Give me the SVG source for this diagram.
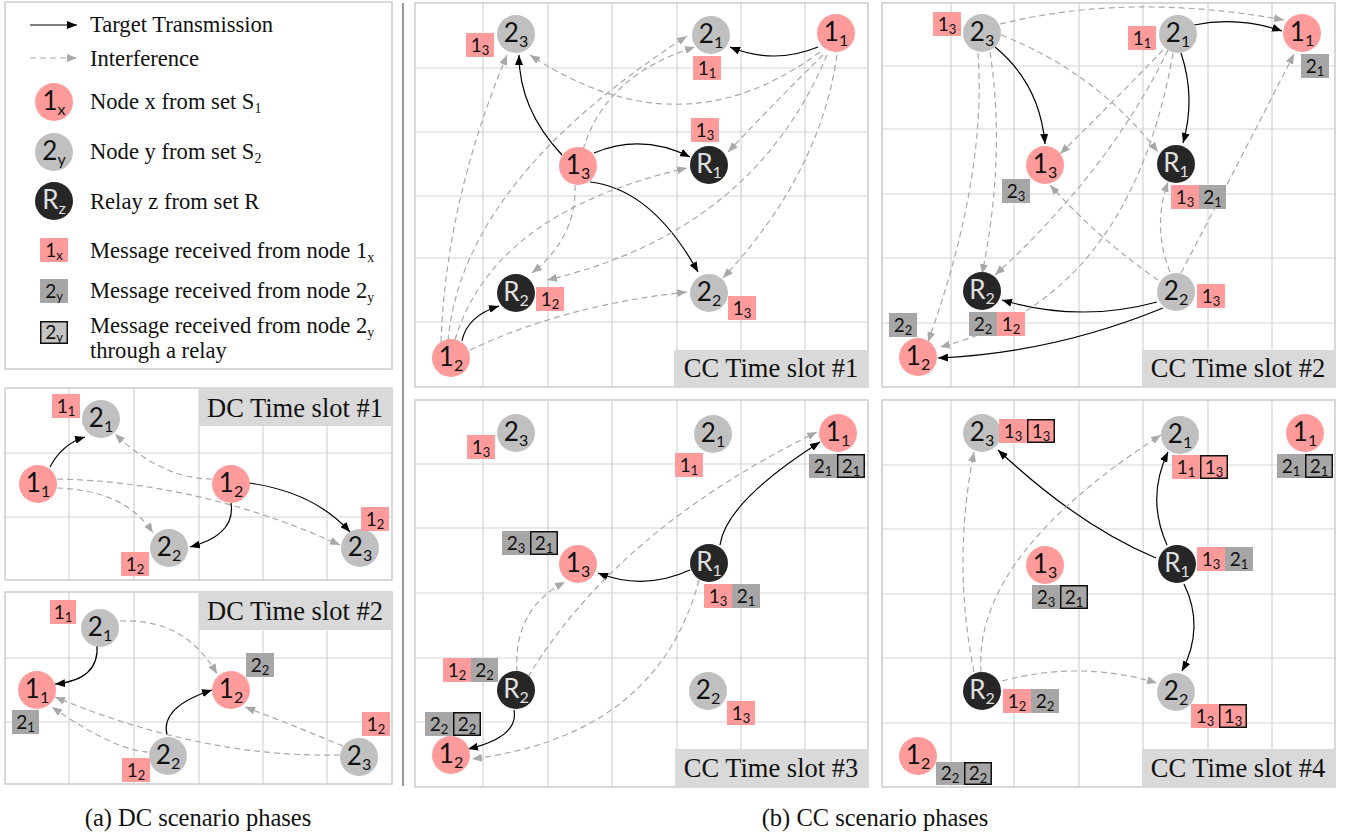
<svg xmlns="http://www.w3.org/2000/svg" width="1349" height="833" viewBox="0 0 1349 833">
<style>
.bg{fill:#fff}
.panel{fill:none;stroke:#cfcfcf;stroke-width:1.6}
.grid{stroke:#d4d4d4;stroke-width:1.2}
.tl{fill:#d9d9d9}
.tt{font-family:"Liberation Serif","Times New Roman",serif;font-size:26.5px;text-anchor:middle;fill:#111}
.lg{font-family:"Liberation Serif","Times New Roman",serif;font-size:22.6px;fill:#111}
.cap{font-family:"Liberation Serif","Times New Roman",serif;font-size:24.5px;text-anchor:middle;fill:#111}
.pk{fill:#ff9b9b}
.gy{fill:#c0c0c0}
.dk{fill:#262626}
.mp{fill:#ff9b9b}
.mg{fill:#a6a6a6}
.bx{fill:none;stroke:#111;stroke-width:1.5}
.nt{font-family:Lato,"Open Sans",sans-serif;font-size:26px;text-anchor:middle;fill:#111}
.nr{fill:#e0e0e0}
.ns{font-size:16px}
.lt{font-family:Lato,"Open Sans",sans-serif;font-size:19px;text-anchor:middle;fill:#111}
.ls{font-size:13px}
.s{fill:none;stroke:#000;stroke-width:1.2;marker-end:url(#ab)}
.d{fill:none;stroke:#a8a8a8;stroke-width:1.2;stroke-dasharray:6 4;marker-end:url(#ag)}
</style>
<defs>
<marker id="ab" viewBox="0 0 10 8" refX="10" refY="4" markerWidth="10" markerHeight="8" markerUnits="userSpaceOnUse" orient="auto"><path d="M0,0 L10,4 L0,8 z" fill="#000"/></marker>
<marker id="ag" viewBox="0 0 10 8" refX="10" refY="4" markerWidth="10" markerHeight="8" markerUnits="userSpaceOnUse" orient="auto"><path d="M0,0 L10,4 L0,8 z" fill="#a8a8a8"/></marker>
</defs>
<rect class="bg" x="0" y="0" width="1349" height="833"/>

<!-- Legend -->
<g id="legend">
<rect x="5" y="2" width="387" height="367" fill="#fff" stroke="#cfcfcf" stroke-width="1.6"/>
<line class="s" x1="30" y1="25" x2="77" y2="25"/>
<line class="d" x1="30" y1="58" x2="77" y2="58"/>
<text class="lg" x="90" y="32">Target Transmission</text>
<text class="lg" x="90" y="66">Interference</text>
<circle class="pk" cx="54" cy="102" r="19"/><text class="nt" x="54" y="110">1<tspan class="ns" dy="5">x</tspan></text>
<text class="lg" x="90" y="109">Node x from set S<tspan font-size="14" dy="4">1</tspan></text>
<circle class="gy" cx="54" cy="152" r="19"/><text class="nt" x="54" y="160">2<tspan class="ns" dy="5">y</tspan></text>
<text class="lg" x="90" y="159">Node y from set S<tspan font-size="14" dy="4">2</tspan></text>
<circle class="dk" cx="54" cy="201" r="19"/><text class="nt nr" x="54" y="209">R<tspan class="ns" dy="5">z</tspan></text>
<text class="lg" x="90" y="209">Relay z from set R</text>
<rect class="mp" x="40" y="238" width="28" height="24"/><text class="lt" x="54" y="257">1<tspan class="ls" dy="3">x</tspan></text>
<text class="lg" x="90" y="258">Message received from node 1<tspan font-size="14" dy="4">x</tspan></text>
<rect class="mg" x="40" y="279" width="28" height="24"/><text class="lt" x="54" y="298">2<tspan class="ls" dy="3">y</tspan></text>
<text class="lg" x="90" y="298">Message received from node 2<tspan font-size="14" dy="4">y</tspan></text>
<rect x="40.75" y="321.75" width="26.5" height="21.5" fill="#c4c4c4" stroke="#111" stroke-width="1.5"/><text class="lt" x="54" y="339">2<tspan class="ls" dy="3">y</tspan></text>
<text class="lg" x="90" y="333">Message received from node 2<tspan font-size="14" dy="4">y</tspan></text>
<text class="lg" x="90" y="358">through a relay</text>
</g>

<line x1="403" y1="3" x2="403" y2="786" stroke="#9a9a9a" stroke-width="2"/>

<!-- Panel frames and grids -->
<g id="frames">
<rect class="bg" x="5" y="388" width="387" height="192"/>
<g class="grid"><line x1="69" y1="388" x2="69" y2="580"/><line x1="134" y1="388" x2="134" y2="580"/><line x1="199" y1="388" x2="199" y2="580"/><line x1="263" y1="388" x2="263" y2="580"/><line x1="327" y1="388" x2="327" y2="580"/><line x1="5" y1="453" x2="392" y2="453"/><line x1="5" y1="517" x2="392" y2="517"/></g>
<rect class="panel" x="5" y="388" width="387" height="192"/>
<rect class="tl" x="199" y="388" width="192" height="38"/><text class="tt" x="295" y="417">DC Time slot #1</text>

<g class="grid"><line x1="69" y1="592" x2="69" y2="784"/><line x1="134" y1="592" x2="134" y2="784"/><line x1="199" y1="592" x2="199" y2="784"/><line x1="263" y1="592" x2="263" y2="784"/><line x1="327" y1="592" x2="327" y2="784"/><line x1="5" y1="658" x2="392" y2="658"/><line x1="5" y1="722" x2="392" y2="722"/></g>
<rect class="panel" x="5" y="592" width="387" height="192"/>
<rect class="tl" x="199" y="592" width="192" height="38"/><text class="tt" x="295" y="620">DC Time slot #2</text>

<g class="grid"><line x1="483" y1="3" x2="483" y2="387"/><line x1="548" y1="3" x2="548" y2="387"/><line x1="612" y1="3" x2="612" y2="387"/><line x1="677" y1="3" x2="677" y2="387"/><line x1="741" y1="3" x2="741" y2="387"/><line x1="805" y1="3" x2="805" y2="387"/><line x1="415" y1="68" x2="868" y2="68"/><line x1="415" y1="132" x2="868" y2="132"/><line x1="415" y1="196" x2="868" y2="196"/><line x1="415" y1="258" x2="868" y2="258"/><line x1="415" y1="322" x2="868" y2="322"/></g>
<rect class="panel" x="415" y="3" width="453" height="384"/>
<rect class="tl" x="674" y="350" width="194" height="37"/><text class="tt" x="771" y="377">CC Time slot #1</text>

<g class="grid"><line x1="951" y1="3" x2="951" y2="387"/><line x1="1014" y1="3" x2="1014" y2="387"/><line x1="1079" y1="3" x2="1079" y2="387"/><line x1="1143" y1="3" x2="1143" y2="387"/><line x1="1208" y1="3" x2="1208" y2="387"/><line x1="1272" y1="3" x2="1272" y2="387"/><line x1="882" y1="66" x2="1335" y2="66"/><line x1="882" y1="129" x2="1335" y2="129"/><line x1="882" y1="194" x2="1335" y2="194"/><line x1="882" y1="258" x2="1335" y2="258"/><line x1="882" y1="323" x2="1335" y2="323"/></g>
<rect class="panel" x="882" y="3" width="453" height="384"/>
<rect class="tl" x="1142" y="350" width="193" height="37"/><text class="tt" x="1238" y="377">CC Time slot #2</text>

<g class="grid"><line x1="483" y1="400" x2="483" y2="787"/><line x1="548" y1="400" x2="548" y2="787"/><line x1="612" y1="400" x2="612" y2="787"/><line x1="677" y1="400" x2="677" y2="787"/><line x1="741" y1="400" x2="741" y2="787"/><line x1="805" y1="400" x2="805" y2="787"/><line x1="415" y1="464" x2="868" y2="464"/><line x1="415" y1="528" x2="868" y2="528"/><line x1="415" y1="593" x2="868" y2="593"/><line x1="415" y1="658" x2="868" y2="658"/><line x1="415" y1="722" x2="868" y2="722"/></g>
<rect class="panel" x="415" y="400" width="453" height="387"/>
<rect class="tl" x="675" y="749" width="193" height="38"/><text class="tt" x="771" y="777">CC Time slot #3</text>

<g class="grid"><line x1="951" y1="400" x2="951" y2="787"/><line x1="1014" y1="400" x2="1014" y2="787"/><line x1="1079" y1="400" x2="1079" y2="787"/><line x1="1143" y1="400" x2="1143" y2="787"/><line x1="1208" y1="400" x2="1208" y2="787"/><line x1="1272" y1="400" x2="1272" y2="787"/><line x1="882" y1="465" x2="1335" y2="465"/><line x1="882" y1="529" x2="1335" y2="529"/><line x1="882" y1="594" x2="1335" y2="594"/><line x1="882" y1="658" x2="1335" y2="658"/><line x1="882" y1="723" x2="1335" y2="723"/></g>
<rect class="panel" x="882" y="400" width="453" height="387"/>
<rect class="tl" x="1142" y="749" width="193" height="38"/><text class="tt" x="1238" y="777">CC Time slot #4</text>
</g>

<!-- Connectors -->
<g id="connectors">
<!-- DC1 -->
<path class="s" d="M50,467 Q62,444 85,437"/>
<path class="d" d="M212,479 Q162,479 115,434"/>
<path class="d" d="M57,479 Q201,482 340,545"/>
<path class="d" d="M57,488 Q125,490 153,533"/>
<path class="s" d="M231,503 Q236,535 190,547"/>
<path class="s" d="M249,483 Q314,492 350,532"/>
<!-- DC2 -->
<path class="s" d="M97,644 Q100,680 55,684"/>
<path class="d" d="M120,621 Q185,618 217,674"/>
<path class="s" d="M167,735 Q160,707 212,690"/>
<path class="d" d="M148,752 Q114,750 52,707"/>
<path class="d" d="M340,755 Q202,758 55,697"/>
<path class="d" d="M343,746 Q300,728 245,707"/>
<!-- CC1 -->
<path class="s" d="M818,47 Q774,65 730,47"/>
<path class="s" d="M562,155 Q519,109 519,55"/>
<path class="s" d="M594,153 Q642,133 690,157"/>
<path class="s" d="M590,182 Q652,189 698,272"/>
<path class="s" d="M462,341 Q467,316 499,306"/>
<path class="d" d="M820,52 Q681,155 530,55"/>
<path class="d" d="M823,55 Q780,97 728,152"/>
<path class="d" d="M827,55 Q753,232 547,280"/>
<path class="d" d="M837,55 Q820,174 723,278"/>
<path class="d" d="M583,150 Q605,75 695,47"/>
<path class="d" d="M575,185 Q577,237 532,273"/>
<path class="d" d="M441,342 Q446,201 507,55"/>
<path class="d" d="M448,341 Q462,181 687,36"/>
<path class="d" d="M455,340 Q493,212 687,168"/>
<path class="d" d="M470,350 Q565,305 687,292"/>
<!-- CC2 -->
<path class="s" d="M995,47 Q1040,84 1045,144"/>
<path class="s" d="M1194,25 Q1238,16 1282,31"/>
<path class="s" d="M1181,53 Q1196,98 1183,143"/>
<path class="s" d="M1157,302 Q1080,323 1002,300"/>
<path class="s" d="M1163,308 Q1053,353 938,358"/>
<path class="d" d="M1000,24 Q1130,-8 1284,20"/>
<path class="d" d="M1001,35 Q1096,72 1158,152"/>
<path class="d" d="M990,52 Q1006,157 982,274"/>
<path class="d" d="M978,53 Q987,177 928,342"/>
<path class="d" d="M1163,50 Q1115,100 1060,154"/>
<path class="d" d="M1168,50 Q1110,170 995,275"/>
<path class="d" d="M1173,53 Q1130,300 940,347"/>
<path class="d" d="M1158,280 Q1100,240 1050,185"/>
<path class="d" d="M1170,272 Q1152,227 1168,182"/>
<path class="d" d="M1181,273 Q1240,160 1294,54"/>
<!-- CC3 -->
<path class="s" d="M720,545 Q726,502 820,442"/>
<path class="s" d="M690,570 Q644,591 598,573"/>
<path class="s" d="M514,710 Q519,737 468,749"/>
<path class="d" d="M517,672 Q513,609 565,582"/>
<path class="d" d="M528,677 Q617,530 817,432"/>
<path class="d" d="M699,580 Q658,735 472,759"/>
<!-- CC4 -->
<path class="s" d="M1156,558 Q1079,526 998,450"/>
<path class="s" d="M1167,545 Q1146,498 1168,452"/>
<path class="s" d="M1184,584 Q1205,627 1182,671"/>
<path class="d" d="M974,672 Q952,562 974,452"/>
<path class="d" d="M981,672 Q973,556 1161,435"/>
<path class="d" d="M1002,681 Q1080,660 1157,683"/>
</g>

<!-- DC1 nodes -->
<g id="dc1-2-1"><circle class="gy" cx="101" cy="419" r="19"/><text class="nt" x="101" y="427">2<tspan class="ns" dy="5">1</tspan></text></g>
<g id="dc1-1-1"><circle class="pk" cx="38" cy="484" r="19"/><text class="nt" x="38" y="492">1<tspan class="ns" dy="5">1</tspan></text></g>
<g id="dc1-1-2"><circle class="pk" cx="231" cy="484" r="19"/><text class="nt" x="231" y="492">1<tspan class="ns" dy="5">2</tspan></text></g>
<g id="dc1-2-2"><circle class="gy" cx="169" cy="548" r="19"/><text class="nt" x="169" y="556">2<tspan class="ns" dy="5">2</tspan></text></g>
<g id="dc1-2-3"><circle class="gy" cx="360" cy="548" r="19"/><text class="nt" x="360" y="556">2<tspan class="ns" dy="5">3</tspan></text></g>
<g id="dc1-msgs">
<rect class="mp" x="52" y="394" width="28" height="24"/><text class="lt" x="66" y="413">1<tspan class="ls" dy="3">1</tspan></text>
<rect class="mp" x="361" y="507" width="28" height="24"/><text class="lt" x="375" y="526">1<tspan class="ls" dy="3">2</tspan></text>
<rect class="mp" x="121" y="552" width="28" height="24"/><text class="lt" x="135" y="571">1<tspan class="ls" dy="3">2</tspan></text>
</g>

<!-- DC2 nodes -->
<g id="dc2-2-1"><circle class="gy" cx="100" cy="628" r="19"/><text class="nt" x="100" y="636">2<tspan class="ns" dy="5">1</tspan></text></g>
<g id="dc2-1-1"><circle class="pk" cx="37" cy="690" r="19"/><text class="nt" x="37" y="698">1<tspan class="ns" dy="5">1</tspan></text></g>
<g id="dc2-1-2"><circle class="pk" cx="231" cy="690" r="19"/><text class="nt" x="231" y="698">1<tspan class="ns" dy="5">2</tspan></text></g>
<g id="dc2-2-2"><circle class="gy" cx="168" cy="756" r="19"/><text class="nt" x="168" y="764">2<tspan class="ns" dy="5">2</tspan></text></g>
<g id="dc2-2-3"><circle class="gy" cx="359" cy="757" r="19"/><text class="nt" x="359" y="765">2<tspan class="ns" dy="5">3</tspan></text></g>
<g id="dc2-msgs">
<rect class="mp" x="50" y="600" width="26" height="24"/><text class="lt" x="63" y="619">1<tspan class="ls" dy="3">1</tspan></text>
<rect class="mg" x="246" y="653" width="28" height="24"/><text class="lt" x="260" y="672">2<tspan class="ls" dy="3">2</tspan></text>
<rect class="mg" x="12" y="710" width="27" height="24"/><text class="lt" x="25.5" y="729">2<tspan class="ls" dy="3">1</tspan></text>
<rect class="mp" x="362" y="712" width="28" height="24"/><text class="lt" x="376" y="731">1<tspan class="ls" dy="3">2</tspan></text>
<rect class="mp" x="122" y="758" width="28" height="24"/><text class="lt" x="136" y="777">1<tspan class="ls" dy="3">2</tspan></text>
</g>

<!-- CC1 nodes -->
<g id="cc1-2-3"><circle class="gy" cx="516" cy="34" r="19"/><text class="nt" x="516" y="42">2<tspan class="ns" dy="5">3</tspan></text></g>
<g id="cc1-2-1"><circle class="gy" cx="711" cy="35" r="19"/><text class="nt" x="711" y="43">2<tspan class="ns" dy="5">1</tspan></text></g>
<g id="cc1-1-1"><circle class="pk" cx="836" cy="33" r="19"/><text class="nt" x="836" y="41">1<tspan class="ns" dy="5">1</tspan></text></g>
<g id="cc1-1-3"><circle class="pk" cx="578" cy="166" r="19"/><text class="nt" x="578" y="174">1<tspan class="ns" dy="5">3</tspan></text></g>
<g id="cc1-r-1"><circle class="dk" cx="709" cy="165" r="19"/><text class="nt nr" x="709" y="173">R<tspan class="ns" dy="5">1</tspan></text></g>
<g id="cc1-r-2"><circle class="dk" cx="516" cy="293" r="19"/><text class="nt nr" x="516" y="301">R<tspan class="ns" dy="5">2</tspan></text></g>
<g id="cc1-2-2"><circle class="gy" cx="709" cy="293" r="19"/><text class="nt" x="709" y="301">2<tspan class="ns" dy="5">2</tspan></text></g>
<g id="cc1-1-2"><circle class="pk" cx="451" cy="358" r="19"/><text class="nt" x="451" y="366">1<tspan class="ns" dy="5">2</tspan></text></g>
<g id="cc1-msgs">
<rect class="mp" x="466" y="33" width="28" height="24"/><text class="lt" x="480" y="52">1<tspan class="ls" dy="3">3</tspan></text>
<rect class="mp" x="693" y="56" width="28" height="24"/><text class="lt" x="707" y="75">1<tspan class="ls" dy="3">1</tspan></text>
<rect class="mp" x="691" y="118" width="28" height="24"/><text class="lt" x="705" y="137">1<tspan class="ls" dy="3">3</tspan></text>
<rect class="mp" x="536" y="287" width="28" height="24"/><text class="lt" x="550" y="306">1<tspan class="ls" dy="3">2</tspan></text>
<rect class="mp" x="728" y="296" width="28" height="24"/><text class="lt" x="742" y="315">1<tspan class="ls" dy="3">3</tspan></text>
</g>

<!-- CC2 nodes -->
<g id="cc2-2-3"><circle class="gy" cx="982" cy="33" r="19"/><text class="nt" x="982" y="41">2<tspan class="ns" dy="5">3</tspan></text></g>
<g id="cc2-2-1"><circle class="gy" cx="1178" cy="34" r="19"/><text class="nt" x="1178" y="42">2<tspan class="ns" dy="5">1</tspan></text></g>
<g id="cc2-1-1"><circle class="pk" cx="1302" cy="33" r="19"/><text class="nt" x="1302" y="41">1<tspan class="ns" dy="5">1</tspan></text></g>
<g id="cc2-1-3"><circle class="pk" cx="1045" cy="165" r="19"/><text class="nt" x="1045" y="173">1<tspan class="ns" dy="5">3</tspan></text></g>
<g id="cc2-r-1"><circle class="dk" cx="1176" cy="164" r="19"/><text class="nt nr" x="1176" y="172">R<tspan class="ns" dy="5">1</tspan></text></g>
<g id="cc2-r-2"><circle class="dk" cx="982" cy="291" r="19"/><text class="nt nr" x="982" y="299">R<tspan class="ns" dy="5">2</tspan></text></g>
<g id="cc2-2-2"><circle class="gy" cx="1176" cy="292" r="19"/><text class="nt" x="1176" y="300">2<tspan class="ns" dy="5">2</tspan></text></g>
<g id="cc2-1-2"><circle class="pk" cx="918" cy="357" r="19"/><text class="nt" x="918" y="365">1<tspan class="ns" dy="5">2</tspan></text></g>
<g id="cc2-msgs">
<rect class="mp" x="933" y="12" width="28" height="24"/><text class="lt" x="947" y="31">1<tspan class="ls" dy="3">3</tspan></text>
<rect class="mp" x="1128" y="26" width="28" height="24"/><text class="lt" x="1142" y="45">1<tspan class="ls" dy="3">1</tspan></text>
<rect class="mg" x="1301" y="54" width="28" height="24"/><text class="lt" x="1315" y="73">2<tspan class="ls" dy="3">1</tspan></text>
<rect class="mg" x="1002" y="179" width="28" height="24"/><text class="lt" x="1016" y="198">2<tspan class="ls" dy="3">3</tspan></text>
<rect class="mp" x="1171" y="185" width="28" height="24"/><text class="lt" x="1185" y="204">1<tspan class="ls" dy="3">3</tspan></text>
<rect class="mg" x="1199" y="185" width="27" height="24"/><text class="lt" x="1212.5" y="204">2<tspan class="ls" dy="3">1</tspan></text>
<rect class="mp" x="1197" y="284" width="28" height="24"/><text class="lt" x="1211" y="303">1<tspan class="ls" dy="3">3</tspan></text>
<rect class="mg" x="969" y="312" width="28" height="24"/><text class="lt" x="983" y="331">2<tspan class="ls" dy="3">2</tspan></text>
<rect class="mp" x="997" y="312" width="28" height="24"/><text class="lt" x="1011" y="331">1<tspan class="ls" dy="3">2</tspan></text>
<rect class="mg" x="889" y="313" width="28" height="24"/><text class="lt" x="903" y="332">2<tspan class="ls" dy="3">2</tspan></text>
</g>

<!-- CC3 nodes -->
<g id="cc3-2-3"><circle class="gy" cx="516" cy="433" r="19"/><text class="nt" x="516" y="441">2<tspan class="ns" dy="5">3</tspan></text></g>
<g id="cc3-2-1"><circle class="gy" cx="713" cy="434" r="19"/><text class="nt" x="713" y="442">2<tspan class="ns" dy="5">1</tspan></text></g>
<g id="cc3-1-1"><circle class="pk" cx="838" cy="433" r="19"/><text class="nt" x="838" y="441">1<tspan class="ns" dy="5">1</tspan></text></g>
<g id="cc3-1-3"><circle class="pk" cx="578" cy="564" r="19"/><text class="nt" x="578" y="572">1<tspan class="ns" dy="5">3</tspan></text></g>
<g id="cc3-r-1"><circle class="dk" cx="709" cy="563" r="19"/><text class="nt nr" x="709" y="571">R<tspan class="ns" dy="5">1</tspan></text></g>
<g id="cc3-r-2"><circle class="dk" cx="516" cy="690" r="19"/><text class="nt nr" x="516" y="698">R<tspan class="ns" dy="5">2</tspan></text></g>
<g id="cc3-2-2"><circle class="gy" cx="708" cy="691" r="19"/><text class="nt" x="708" y="699">2<tspan class="ns" dy="5">2</tspan></text></g>
<g id="cc3-1-2"><circle class="pk" cx="451" cy="755" r="19"/><text class="nt" x="451" y="763">1<tspan class="ns" dy="5">2</tspan></text></g>
<g id="cc3-msgs">
<rect class="mp" x="467" y="435" width="28" height="24"/><text class="lt" x="481" y="454">1<tspan class="ls" dy="3">3</tspan></text>
<rect class="mp" x="675" y="453" width="28" height="24"/><text class="lt" x="689" y="472">1<tspan class="ls" dy="3">1</tspan></text>
<rect class="mg" x="809" y="454" width="56" height="24"/><rect class="bx" x="837.75" y="454.75" width="26.5" height="22.5"/><text class="lt" x="823" y="473">2<tspan class="ls" dy="3">1</tspan></text><text class="lt" x="851" y="473">2<tspan class="ls" dy="3">1</tspan></text>
<rect class="mg" x="502" y="531" width="56" height="24"/><rect class="bx" x="530.75" y="531.75" width="26.5" height="22.5"/><text class="lt" x="516" y="550">2<tspan class="ls" dy="3">3</tspan></text><text class="lt" x="544" y="550">2<tspan class="ls" dy="3">1</tspan></text>
<rect class="mp" x="704" y="584" width="28" height="24"/><rect class="mg" x="732" y="584" width="28" height="24"/><text class="lt" x="718" y="603">1<tspan class="ls" dy="3">3</tspan></text><text class="lt" x="746" y="603">2<tspan class="ls" dy="3">1</tspan></text>
<rect class="mp" x="443" y="658" width="28" height="24"/><rect class="mg" x="471" y="658" width="27" height="24"/><text class="lt" x="457" y="677">1<tspan class="ls" dy="3">2</tspan></text><text class="lt" x="484.5" y="677">2<tspan class="ls" dy="3">2</tspan></text>
<rect class="mg" x="425" y="712" width="56" height="24"/><rect class="bx" x="453.75" y="712.75" width="26.5" height="22.5"/><text class="lt" x="439" y="731">2<tspan class="ls" dy="3">2</tspan></text><text class="lt" x="467" y="731">2<tspan class="ls" dy="3">2</tspan></text>
<rect class="mp" x="727" y="701" width="28" height="24"/><text class="lt" x="741" y="720">1<tspan class="ls" dy="3">3</tspan></text>
</g>

<!-- CC4 nodes -->
<g id="cc4-2-3"><circle class="gy" cx="982" cy="433" r="19"/><text class="nt" x="982" y="441">2<tspan class="ns" dy="5">3</tspan></text></g>
<g id="cc4-2-1"><circle class="gy" cx="1180" cy="435" r="19"/><text class="nt" x="1180" y="443">2<tspan class="ns" dy="5">1</tspan></text></g>
<g id="cc4-1-1"><circle class="pk" cx="1305" cy="433" r="19"/><text class="nt" x="1305" y="441">1<tspan class="ns" dy="5">1</tspan></text></g>
<g id="cc4-1-3"><circle class="pk" cx="1045" cy="565" r="19"/><text class="nt" x="1045" y="573">1<tspan class="ns" dy="5">3</tspan></text></g>
<g id="cc4-r-1"><circle class="dk" cx="1177" cy="564" r="19"/><text class="nt nr" x="1177" y="572">R<tspan class="ns" dy="5">1</tspan></text></g>
<g id="cc4-r-2"><circle class="dk" cx="982" cy="691" r="19"/><text class="nt nr" x="982" y="699">R<tspan class="ns" dy="5">2</tspan></text></g>
<g id="cc4-2-2"><circle class="gy" cx="1176" cy="692" r="19"/><text class="nt" x="1176" y="700">2<tspan class="ns" dy="5">2</tspan></text></g>
<g id="cc4-1-2"><circle class="pk" cx="918" cy="756" r="19"/><text class="nt" x="918" y="764">1<tspan class="ns" dy="5">2</tspan></text></g>
<g id="cc4-msgs">
<rect class="mp" x="999" y="419" width="56" height="24"/><rect class="bx" x="1027.75" y="419.75" width="26.5" height="22.5"/><text class="lt" x="1013" y="438">1<tspan class="ls" dy="3">3</tspan></text><text class="lt" x="1041" y="438">1<tspan class="ls" dy="3">3</tspan></text>
<rect class="mp" x="1172" y="455" width="56" height="24"/><rect class="bx" x="1200.75" y="455.75" width="26.5" height="22.5"/><text class="lt" x="1186" y="474">1<tspan class="ls" dy="3">1</tspan></text><text class="lt" x="1214" y="474">1<tspan class="ls" dy="3">3</tspan></text>
<rect class="mg" x="1277" y="454" width="56" height="24"/><rect class="bx" x="1305.75" y="454.75" width="26.5" height="22.5"/><text class="lt" x="1291" y="473">2<tspan class="ls" dy="3">1</tspan></text><text class="lt" x="1319" y="473">2<tspan class="ls" dy="3">1</tspan></text>
<rect class="mp" x="1197" y="547" width="28" height="24"/><rect class="mg" x="1225" y="547" width="28" height="24"/><text class="lt" x="1211" y="566">1<tspan class="ls" dy="3">3</tspan></text><text class="lt" x="1239" y="566">2<tspan class="ls" dy="3">1</tspan></text>
<rect class="mg" x="1032" y="585" width="56" height="24"/><rect class="bx" x="1060.75" y="585.75" width="26.5" height="22.5"/><text class="lt" x="1046" y="604">2<tspan class="ls" dy="3">3</tspan></text><text class="lt" x="1074" y="604">2<tspan class="ls" dy="3">1</tspan></text>
<rect class="mp" x="1003" y="689" width="28" height="24"/><rect class="mg" x="1031" y="689" width="28" height="24"/><text class="lt" x="1017" y="708">1<tspan class="ls" dy="3">2</tspan></text><text class="lt" x="1045" y="708">2<tspan class="ls" dy="3">2</tspan></text>
<rect class="mp" x="1191" y="704" width="56" height="24"/><rect class="bx" x="1219.75" y="704.75" width="26.5" height="22.5"/><text class="lt" x="1205" y="723">1<tspan class="ls" dy="3">3</tspan></text><text class="lt" x="1233" y="723">1<tspan class="ls" dy="3">3</tspan></text>
<rect class="mg" x="936" y="762" width="56" height="23"/><rect class="bx" x="964.75" y="762.75" width="26.5" height="21.5"/><text class="lt" x="950" y="780">2<tspan class="ls" dy="3">2</tspan></text><text class="lt" x="978" y="780">2<tspan class="ls" dy="3">2</tspan></text>
</g>

<text class="cap" x="198" y="826">(a) DC scenario phases</text>
<text class="cap" x="875" y="826">(b) CC scenario phases</text>
</svg>
